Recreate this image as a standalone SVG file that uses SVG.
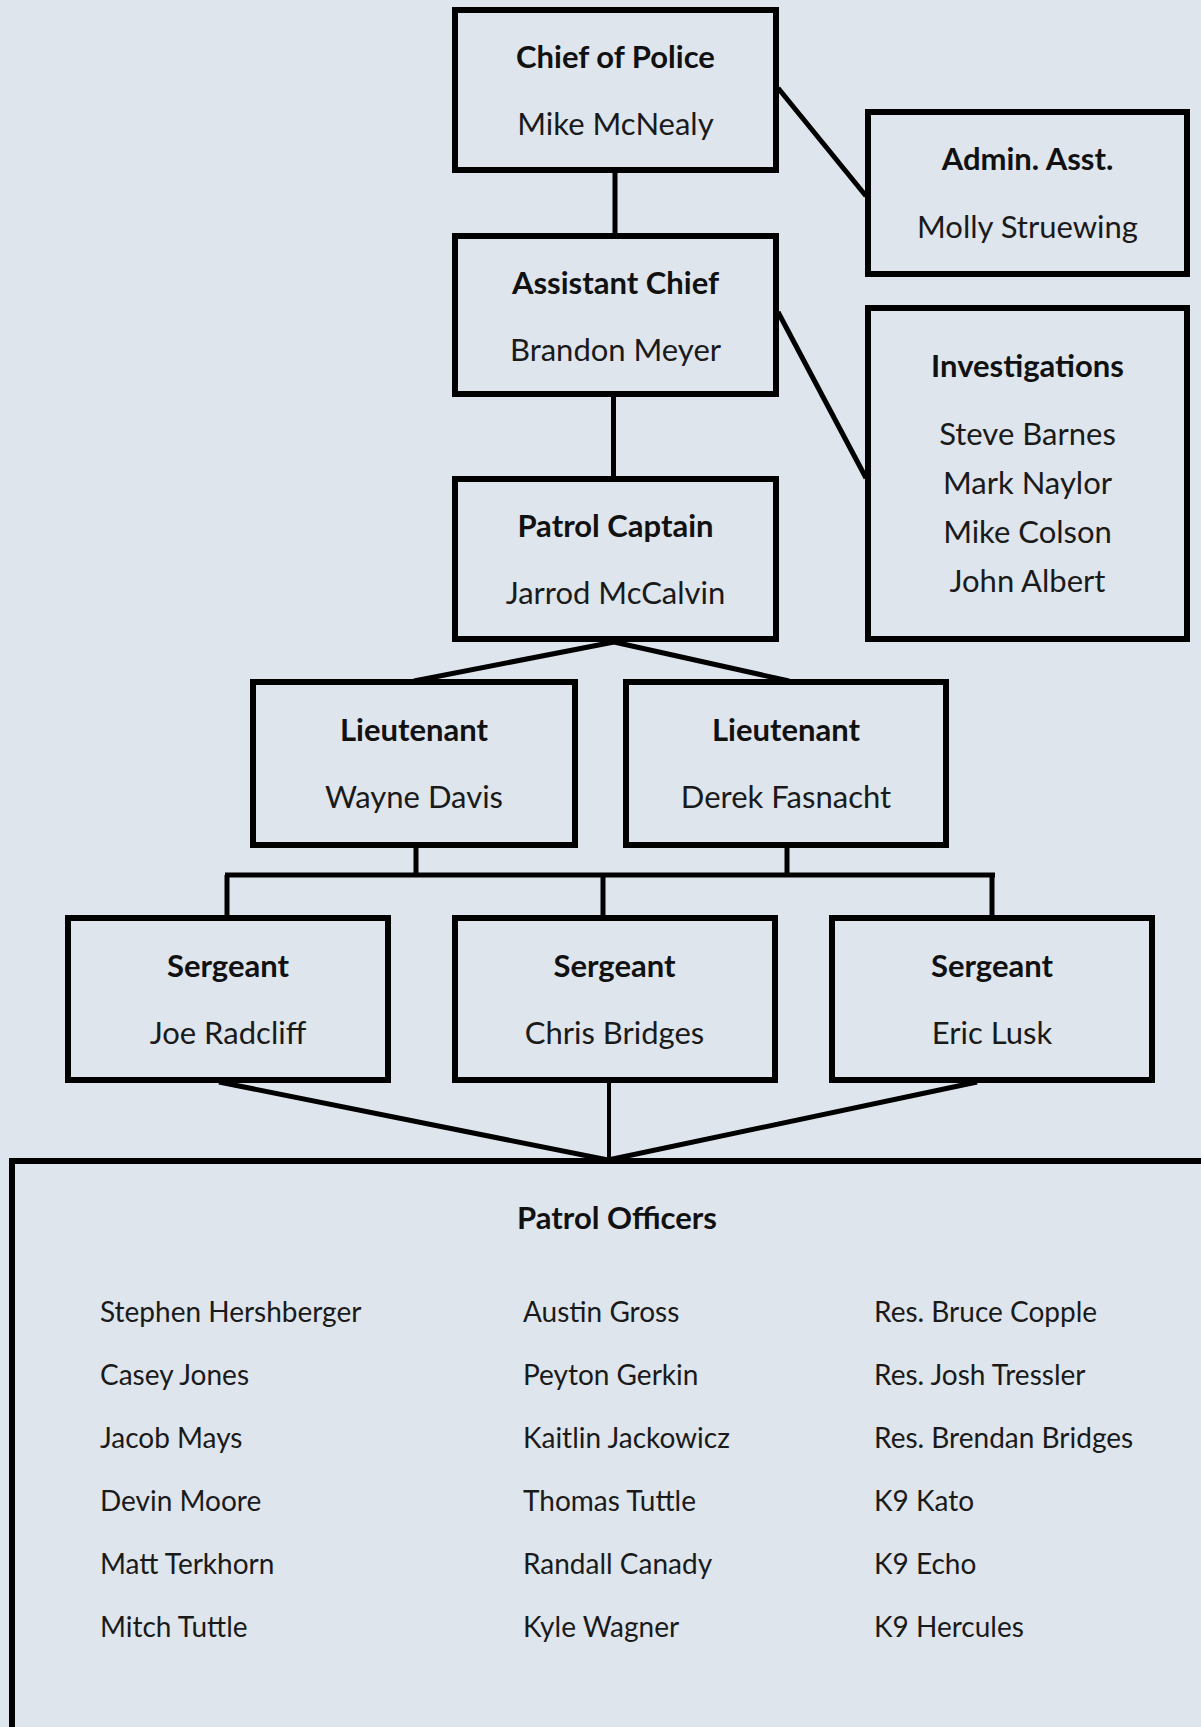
<svg xmlns="http://www.w3.org/2000/svg" width="1201" height="1727" viewBox="0 0 1201 1727">
<defs>
<style>
.bg{fill:#dee5ed}
.box{fill:#dee5ed;stroke:#000;stroke-width:6}
.ln{stroke:#000;stroke-width:5;fill:none}
.t{font-family:Lato,"Open Sans","Liberation Sans",sans-serif;font-size:31px;font-weight:bold;fill:#111;text-anchor:middle}
.n{font-family:Lato,"Open Sans","Liberation Sans",sans-serif;font-size:31px;fill:#1a1a1a;text-anchor:middle}
.p{font-family:Lato,"Open Sans","Liberation Sans",sans-serif;font-size:28px;fill:#1a1a1a}
</style>
</defs>
<rect class="bg" x="0" y="0" width="1201" height="1727"/>
<g id="connectors">
<line class="ln" x1="778" y1="88" x2="866" y2="196"/>
<line class="ln" x1="615" y1="172" x2="615" y2="234"/>
<line class="ln" x1="778" y1="312" x2="866" y2="478"/>
<line class="ln" x1="613.5" y1="396" x2="613.5" y2="478"/>
<line class="ln" x1="614" y1="642" x2="414" y2="681"/>
<line class="ln" x1="614" y1="642" x2="789" y2="681"/>
<line class="ln" x1="416" y1="847" x2="416" y2="876"/>
<line class="ln" x1="787" y1="847" x2="787" y2="876"/>
<line class="ln" x1="225" y1="875" x2="995" y2="875"/>
<line class="ln" x1="227" y1="875" x2="227" y2="918"/>
<line class="ln" x1="603" y1="875" x2="603" y2="918"/>
<line class="ln" x1="992" y1="875" x2="992" y2="918"/>
<line class="ln" x1="219" y1="1082" x2="608" y2="1160"/>
<line class="ln" x1="609" y1="1082" x2="609" y2="1160" style="stroke-width:4"/>
<line class="ln" x1="977" y1="1082" x2="608" y2="1160"/>
</g>
<g id="chief">
<rect class="box" x="455" y="10" width="321" height="160"/>
<text class="t" x="615.5" y="68">Chief of Police</text>
<text class="n" x="615.5" y="135">Mike McNealy</text>
</g>
<g id="admin">
<rect class="box" x="868" y="112" width="319" height="162"/>
<text class="t" x="1027.5" y="170">Admin. Asst.</text>
<text class="n" x="1027.5" y="238">Molly Struewing</text>
</g>
<g id="assistant">
<rect class="box" x="455" y="236" width="321" height="158"/>
<text class="t" x="615.5" y="294">Assistant Chief</text>
<text class="n" x="615.5" y="361">Brandon Meyer</text>
</g>
<g id="captain">
<rect class="box" x="455" y="479" width="321" height="160"/>
<text class="t" x="615.5" y="537">Patrol Captain</text>
<text class="n" x="615.5" y="604">Jarrod McCalvin</text>
</g>
<g id="investigations">
<rect class="box" x="868" y="308" width="319" height="331"/>
<text class="t" x="1027.5" y="377">Investigations</text>
<text class="n" x="1027.5" y="445">Steve Barnes</text>
<text class="n" x="1027.5" y="494">Mark Naylor</text>
<text class="n" x="1027.5" y="543">Mike Colson</text>
<text class="n" x="1027.5" y="592">John Albert</text>
</g>
<g id="lieutenant-davis">
<rect class="box" x="253" y="682" width="322" height="163"/>
<text class="t" x="414" y="741">Lieutenant</text>
<text class="n" x="414" y="808">Wayne Davis</text>
</g>
<g id="lieutenant-fasnacht">
<rect class="box" x="626" y="682" width="320" height="163"/>
<text class="t" x="786" y="741">Lieutenant</text>
<text class="n" x="786" y="808">Derek Fasnacht</text>
</g>
<g id="sergeant-radcliff">
<rect class="box" x="68" y="918" width="320" height="162"/>
<text class="t" x="228" y="977">Sergeant</text>
<text class="n" x="228" y="1044">Joe Radcliff</text>
</g>
<g id="sergeant-bridges">
<rect class="box" x="455" y="918" width="320" height="162"/>
<text class="t" x="614.5" y="977">Sergeant</text>
<text class="n" x="614.5" y="1044">Chris Bridges</text>
</g>
<g id="sergeant-lusk">
<rect class="box" x="832" y="918" width="320" height="162"/>
<text class="t" x="992" y="977">Sergeant</text>
<text class="n" x="992" y="1044">Eric Lusk</text>
</g>
<g id="patrol-officers">
<rect class="box" x="12" y="1161" width="1200" height="600"/>
<text class="t" x="617" y="1229">Patrol Officers</text>
<text class="p" x="100" y="1322">Stephen Hershberger</text>
<text class="p" x="100" y="1385">Casey Jones</text>
<text class="p" x="100" y="1448">Jacob Mays</text>
<text class="p" x="100" y="1511">Devin Moore</text>
<text class="p" x="100" y="1574">Matt Terkhorn</text>
<text class="p" x="100" y="1637">Mitch Tuttle</text>
<text class="p" x="523" y="1322">Austin Gross</text>
<text class="p" x="523" y="1385">Peyton Gerkin</text>
<text class="p" x="523" y="1448">Kaitlin Jackowicz</text>
<text class="p" x="523" y="1511">Thomas Tuttle</text>
<text class="p" x="523" y="1574">Randall Canady</text>
<text class="p" x="523" y="1637">Kyle Wagner</text>
<text class="p" x="874" y="1322">Res. Bruce Copple</text>
<text class="p" x="874" y="1385">Res. Josh Tressler</text>
<text class="p" x="874" y="1448">Res. Brendan Bridges</text>
<text class="p" x="874" y="1511">K9 Kato</text>
<text class="p" x="874" y="1574">K9 Echo</text>
<text class="p" x="874" y="1637">K9 Hercules</text>
</g>
</svg>
